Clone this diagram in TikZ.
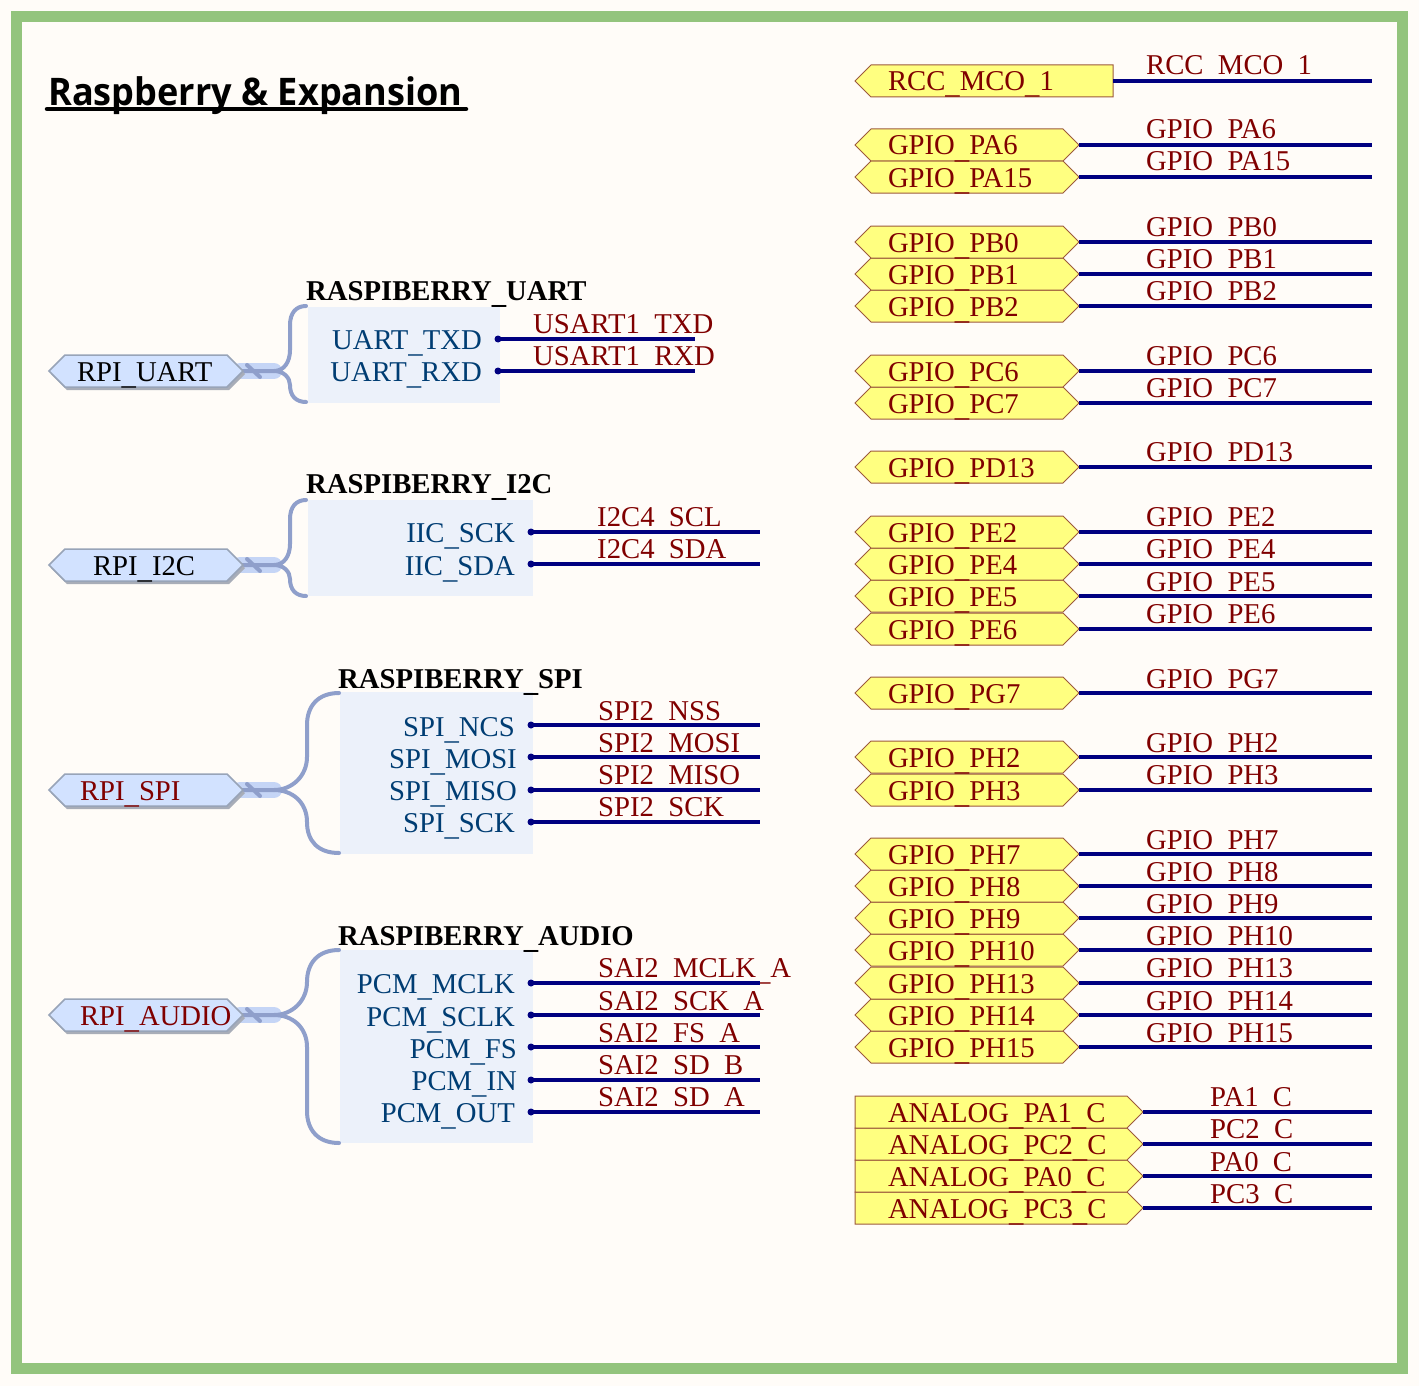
\documentclass[tikz,border=0pt]{standalone}
\usepackage{fontspec}
\usetikzlibrary{shapes.symbols,shadows}
\setmainfont{Liberation Serif}
\newfontfamily\titlefont[FakeStretch=0.95]{Open Sans}
\newcommand{\usc}{\raisebox{-3pt}{\textunderscore}}

\definecolor{wirecol}{HTML}{000080}
\definecolor{sigcol}{HTML}{800000}
\definecolor{pincol}{HTML}{003D73}
\definecolor{portfill}{HTML}{FFFF80}
\definecolor{portline}{HTML}{9C5A3C}
\definecolor{harfill}{HTML}{ECF1FA}
\definecolor{harline}{HTML}{8F9FCB}
\definecolor{bandcol}{HTML}{C5D5F6}
\definecolor{rpifill}{HTML}{D2E2FF}
\definecolor{rpiline}{HTML}{98A4B8}
\definecolor{rpishadow}{HTML}{A8ADB8}
\definecolor{framecol}{HTML}{93C47D}
\definecolor{sheetcol}{HTML}{FFFCF8}

\tikzset{
  basefont/.style={font=\fontsize{28.7}{28.7}\selectfont},
  gport/.style={basefont,shape=signal,signal pointer angle=90,draw=portline,fill=portfill,line width=1pt,
    text=sigcol,outer sep=0pt,inner ysep=0pt,inner xsep=17pt,minimum height=32pt,text height=24pt,text depth=4pt,
    text width=158pt,align=left,signal to=west and east},
  mport/.style={gport,signal to=west,text width=208pt},
  aport/.style={gport,signal to=east,inner xsep=33pt,text width=206pt},
  rpiport/.style={basefont,shape=signal,signal pointer angle=90,draw=rpiline,fill=rpifill,line width=1.5pt,
    text=black,outer sep=0pt,inner ysep=0pt,inner xsep=12pt,minimum height=32pt,text height=24pt,text depth=4pt,
    text width=138pt,align=left,signal to=west and east,
    drop shadow={shadow xshift=2pt,shadow yshift=-3pt,fill=rpishadow,opacity=1}},
  wlabel/.style={basefont,anchor=base west,text=sigcol,inner sep=0pt},
  hpin/.style={basefont,anchor=base east,text=pincol,inner sep=0pt},
  htitle/.style={anchor=base west,font=\fontsize{28.7}{28.7}\selectfont\bfseries,inner sep=0pt},
  hdot/.style={circle,fill=wirecol,inner sep=0pt,minimum size=7pt},
  wire/.style={draw=wirecol,line width=4.3pt},
  band/.style={draw=bandcol,line width=16pt,line cap=round},
  hline/.style={draw=harline,line width=4pt,line cap=round},
}

\begin{document}
\begin{tikzpicture}[x=1pt,y=-1pt]
  \useasboundingbox (0,0) rectangle (1419,1386);
  \fill[sheetcol] (0,0) rectangle (1419,1386);
  \draw[draw=framecol,line width=11pt] (16.5,16.5) rectangle (1402.5,1368.5);

  %title
  \draw (48,105.5) node[anchor=base west,inner sep=0pt,font=\titlefont\fontsize{38}{38}\selectfont\bfseries] (title) {Raspberry \& Expansion};
  \draw (47,109) coordinate (ulA);
  \draw (466,109) coordinate (ulB);
  \draw[line width=4.5pt,line cap=round] (ulA)--(ulB);

  %harness backgrounds
  \fill[harfill] (308,307) rectangle (500,403);
  \fill[harfill] (308,500) rectangle (533,596);
  \fill[harfill] (340,692) rectangle (533,854);
  \fill[harfill] (340,950) rectangle (533,1143);

  %harness ends
  \draw (274,371) coordinate (hUART);
  \draw (274,565) coordinate (hI2C);
  \draw (274,790) coordinate (hSPI);
  \draw (274,1015) coordinate (hAUDIO);

  \draw[band] (240,371)--(hUART);
  \draw[band] (240,565)--(hI2C);
  \draw[band] (240,790)--(hSPI);
  \draw[band] (240,1015)--(hAUDIO);

  \draw[hline] (240,371)--(hUART) (247,365)--(260,377);
  \draw[hline] (240,565)--(hI2C) (247,559)--(260,571);
  \draw[hline] (240,790)--(hSPI) (247,784)--(260,796);
  \draw[hline] (240,1015)--(hAUDIO) (247,1009)--(260,1021);

  \draw[hline] (306,306) .. controls (296,306) and (290,313) .. (290,325) -- (290,350) .. controls (290,362) and (284,371) .. (hUART) .. controls (284,371) and (290,378) .. (290,385) .. controls (290,396) and (296,402) .. (306,402);
  \draw[hline] (306,500) .. controls (296,500) and (290,507) .. (290,519) -- (290,544) .. controls (290,556) and (284,565) .. (hI2C) .. controls (284,565) and (290,572) .. (290,579) .. controls (290,590) and (296,596) .. (306,596);
  \draw[hline] (339,693) .. controls (318,693) and (307,706) .. (307,725) -- (307,757) .. controls (307,776) and (292,790) .. (hSPI) .. controls (292,790) and (307,802) .. (307,822) .. controls (307,841) and (318,853) .. (339,853);
  \draw[hline] (339,950) .. controls (318,950) and (307,963) .. (307,982) .. controls (307,1001) and (292,1015) .. (hAUDIO) .. controls (292,1015) and (307,1027) .. (307,1047) -- (307,1111) .. controls (307,1130) and (318,1143) .. (339,1143);

  %raspberry ports
  \draw (49,371) node[rpiport,anchor=west,inner xsep=12pt] (pUART) {RPI\usc UART};
  \draw (49,565) node[rpiport,anchor=west,inner xsep=28pt,text width=106pt] (pI2C) {RPI\usc I2C};
  \draw (49,790) node[rpiport,anchor=west,inner xsep=15pt,text width=132pt,text=sigcol] (pSPI) {RPI\usc SPI};
  \draw (49,1015) node[rpiport,anchor=west,inner xsep=15pt,text width=132pt,text=sigcol] (pAUDIO) {\rlap{RPI\usc AUDIO}};

  %uart
  \draw (306,300) node[htitle] (tUART) {RASPIBERRY\usc UART};
  \draw (482,349) node[hpin] (nTXD) {UART\usc TXD};
  \draw (482,381) node[hpin] (nRXD) {UART\usc RXD};
  \draw (533,333) node[wlabel] (lTXD) {USART1\usc TXD};
  \draw (533,365) node[wlabel] (lRXD) {USART1\usc RXD};
  \draw (498,339) node[hdot] (dTXD) {};
  \draw (498,371) node[hdot] (dRXD) {};
  \draw (695,339) coordinate (eTXD);
  \draw (695,371) coordinate (eRXD);
  \draw[wire] (dTXD.center)--(eTXD);
  \draw[wire] (dRXD.center)--(eRXD);

  %i2c
  \draw (306,493) node[htitle] (tI2C) {RASPIBERRY\usc I2C};
  \draw (515,542) node[hpin] (nSCL) {IIC\usc SCK};
  \draw (515,575) node[hpin] (nSDA) {IIC\usc SDA};
  \draw (597,526) node[wlabel] (lSCL) {I2C4\usc SCL};
  \draw (597,558) node[wlabel] (lSDA) {I2C4\usc SDA};
  \draw (531,532) node[hdot] (dSCL) {};
  \draw (531,564) node[hdot] (dSDA) {};
  \draw (760,532) coordinate (eSCL);
  \draw (760,564) coordinate (eSDA);
  \draw[wire] (dSCL.center)--(eSCL);
  \draw[wire] (dSDA.center)--(eSDA);

  %spi
  \draw (338,688) node[htitle] (tSPI) {RASPIBERRY\usc SPI};
  \draw (515,736) node[hpin] (nNCS) {SPI\usc NCS};
  \draw (517,768) node[hpin] (nMOSI) {SPI\usc MOSI};
  \draw (517,800) node[hpin] (nMISO) {SPI\usc MISO};
  \draw (515,832) node[hpin] (nSCK) {SPI\usc SCK};
  \draw (598,720) node[wlabel] (lNSS) {SPI2\usc NSS};
  \draw (598,752) node[wlabel] (lMOSI) {SPI2\usc MOSI};
  \draw (598,784) node[wlabel] (lMISO) {SPI2\usc MISO};
  \draw (598,816) node[wlabel] (lSCK) {SPI2\usc SCK};
  \draw (531,725) node[hdot] (dNSS) {};
  \draw (531,757) node[hdot] (dMOSI) {};
  \draw (531,790) node[hdot] (dMISO) {};
  \draw (531,822) node[hdot] (dSCK) {};
  \draw (760,725) coordinate (eNSS);
  \draw (760,757) coordinate (eMOSI);
  \draw (760,790) coordinate (eMISO);
  \draw (760,822) coordinate (eSCK);
  \draw[wire] (dNSS.center)--(eNSS);
  \draw[wire] (dMOSI.center)--(eMOSI);
  \draw[wire] (dMISO.center)--(eMISO);
  \draw[wire] (dSCK.center)--(eSCK);

  %audio
  \draw (338,945) node[htitle] (tAUDIO) {RASPIBERRY\usc AUDIO};
  \draw (515,993) node[hpin] (nMCLK) {PCM\usc MCLK};
  \draw (515,1026) node[hpin] (nSCLK) {PCM\usc SCLK};
  \draw (517,1058) node[hpin] (nFS) {PCM\usc FS};
  \draw (517,1090) node[hpin] (nIN) {PCM\usc IN};
  \draw (515,1122) node[hpin] (nOUT) {PCM\usc OUT};
  \draw (598,977) node[wlabel] (lMCLK) {SAI2\usc MCLK\usc A};
  \draw (598,1010) node[wlabel] (lSCLK) {SAI2\usc SCK\usc A};
  \draw (598,1042) node[wlabel] (lFS) {SAI2\usc FS\usc A};
  \draw (598,1074) node[wlabel] (lIN) {SAI2\usc SD\usc B};
  \draw (598,1106) node[wlabel] (lOUT) {SAI2\usc SD\usc A};
  \draw (531,983) node[hdot] (dMCLK) {};
  \draw (531,1015) node[hdot] (dSCLK) {};
  \draw (531,1047) node[hdot] (dFS) {};
  \draw (531,1080) node[hdot] (dIN) {};
  \draw (531,1112) node[hdot] (dOUT) {};
  \draw (760,983) coordinate (eMCLK);
  \draw (760,1015) coordinate (eSCLK);
  \draw (760,1047) coordinate (eFS);
  \draw (760,1080) coordinate (eIN);
  \draw (760,1112) coordinate (eOUT);
  \draw[wire] (dMCLK.center)--(eMCLK);
  \draw[wire] (dSCLK.center)--(eSCLK);
  \draw[wire] (dFS.center)--(eFS);
  \draw[wire] (dIN.center)--(eIN);
  \draw[wire] (dOUT.center)--(eOUT);

  %right column, ports (bottom up)
  \draw (855,1208) node[aport,anchor=west] (pPC3) {\rlap{ANALOG\usc PC3\usc C}};
  \draw (855,1176) node[aport,anchor=west] (pPA0) {\rlap{ANALOG\usc PA0\usc C}};
  \draw (855,1144) node[aport,anchor=west] (pPC2) {\rlap{ANALOG\usc PC2\usc C}};
  \draw (855,1112) node[aport,anchor=west] (pPA1) {\rlap{ANALOG\usc PA1\usc C}};
  \draw (855,1047) node[gport,anchor=west] (pPH15) {GPIO\usc PH15};
  \draw (855,1015) node[gport,anchor=west] (pPH14) {GPIO\usc PH14};
  \draw (855,983) node[gport,anchor=west] (pPH13) {GPIO\usc PH13};
  \draw (855,950) node[gport,anchor=west] (pPH10) {GPIO\usc PH10};
  \draw (855,918) node[gport,anchor=west] (pPH9) {GPIO\usc PH9};
  \draw (855,886) node[gport,anchor=west] (pPH8) {GPIO\usc PH8};
  \draw (855,854) node[gport,anchor=west] (pPH7) {GPIO\usc PH7};
  \draw (855,790) node[gport,anchor=west] (pPH3) {GPIO\usc PH3};
  \draw (855,757) node[gport,anchor=west] (pPH2) {GPIO\usc PH2};
  \draw (855,693) node[gport,anchor=west] (pPG7) {GPIO\usc PG7};
  \draw (855,629) node[gport,anchor=west] (pPE6) {GPIO\usc PE6};
  \draw (855,596) node[gport,anchor=west] (pPE5) {GPIO\usc PE5};
  \draw (855,564) node[gport,anchor=west] (pPE4) {GPIO\usc PE4};
  \draw (855,532) node[gport,anchor=west] (pPE2) {GPIO\usc PE2};
  \draw (855,467) node[gport,anchor=west] (pPD13) {GPIO\usc PD13};
  \draw (855,403) node[gport,anchor=west] (pPC7) {GPIO\usc PC7};
  \draw (855,371) node[gport,anchor=west] (pPC6) {GPIO\usc PC6};
  \draw (855,306) node[gport,anchor=west] (pPB2) {GPIO\usc PB2};
  \draw (855,274) node[gport,anchor=west] (pPB1) {GPIO\usc PB1};
  \draw (855,242) node[gport,anchor=west] (pPB0) {GPIO\usc PB0};
  \draw (855,177) node[gport,anchor=west] (pPA15) {GPIO\usc PA15};
  \draw (855,145) node[gport,anchor=west] (pPA6) {GPIO\usc PA6};
  \draw (855,81) node[mport,anchor=west] (pMCO) {RCC\usc MCO\usc 1};

  %right column, net labels
  \draw (1146,75) node[wlabel] (lMCO) {RCC\usc MCO\usc 1};
  \draw (1146,139) node[wlabel] (lPA6) {GPIO\usc PA6};
  \draw (1146,171) node[wlabel] (lPA15) {GPIO\usc PA15};
  \draw (1146,236) node[wlabel] (lPB0) {GPIO\usc PB0};
  \draw (1146,268) node[wlabel] (lPB1) {GPIO\usc PB1};
  \draw (1146,300) node[wlabel] (lPB2) {GPIO\usc PB2};
  \draw (1146,365) node[wlabel] (lPC6) {GPIO\usc PC6};
  \draw (1146,397) node[wlabel] (lPC7) {GPIO\usc PC7};
  \draw (1146,461) node[wlabel] (lPD13) {GPIO\usc PD13};
  \draw (1146,526) node[wlabel] (lPE2) {GPIO\usc PE2};
  \draw (1146,558) node[wlabel] (lPE4) {GPIO\usc PE4};
  \draw (1146,591) node[wlabel] (lPE5) {GPIO\usc PE5};
  \draw (1146,623) node[wlabel] (lPE6) {GPIO\usc PE6};
  \draw (1146,688) node[wlabel] (lPG7) {GPIO\usc PG7};
  \draw (1146,752) node[wlabel] (lPH2) {GPIO\usc PH2};
  \draw (1146,784) node[wlabel] (lPH3) {GPIO\usc PH3};
  \draw (1146,849) node[wlabel] (lPH7) {GPIO\usc PH7};
  \draw (1146,881) node[wlabel] (lPH8) {GPIO\usc PH8};
  \draw (1146,913) node[wlabel] (lPH9) {GPIO\usc PH9};
  \draw (1146,945) node[wlabel] (lPH10) {GPIO\usc PH10};
  \draw (1146,977) node[wlabel] (lPH13) {GPIO\usc PH13};
  \draw (1146,1010) node[wlabel] (lPH14) {GPIO\usc PH14};
  \draw (1146,1042) node[wlabel] (lPH15) {GPIO\usc PH15};
  \draw (1210,1106) node[wlabel] (lPA1) {PA1\usc C};
  \draw (1210,1138) node[wlabel] (lPC2) {PC2\usc C};
  \draw (1210,1171) node[wlabel] (lPA0) {PA0\usc C};
  \draw (1210,1203) node[wlabel] (lPC3) {PC3\usc C};

  %right column, wire ends
  \draw (1372,81) coordinate (eMCO);
  \draw (1372,145) coordinate (ePA6);
  \draw (1372,177) coordinate (ePA15);
  \draw (1372,242) coordinate (ePB0);
  \draw (1372,274) coordinate (ePB1);
  \draw (1372,306) coordinate (ePB2);
  \draw (1372,371) coordinate (ePC6);
  \draw (1372,403) coordinate (ePC7);
  \draw (1372,467) coordinate (ePD13);
  \draw (1372,532) coordinate (ePE2);
  \draw (1372,564) coordinate (ePE4);
  \draw (1372,596) coordinate (ePE5);
  \draw (1372,629) coordinate (ePE6);
  \draw (1372,693) coordinate (ePG7);
  \draw (1372,757) coordinate (ePH2);
  \draw (1372,790) coordinate (ePH3);
  \draw (1372,854) coordinate (ePH7);
  \draw (1372,886) coordinate (ePH8);
  \draw (1372,918) coordinate (ePH9);
  \draw (1372,950) coordinate (ePH10);
  \draw (1372,983) coordinate (ePH13);
  \draw (1372,1015) coordinate (ePH14);
  \draw (1372,1047) coordinate (ePH15);
  \draw (1372,1112) coordinate (ePA1);
  \draw (1372,1144) coordinate (ePC2);
  \draw (1372,1176) coordinate (ePA0);
  \draw (1372,1208) coordinate (ePC3);

  %right column, wires
  \draw[wire] (pMCO.east)--(eMCO);
  \draw[wire] (pPA6.east)--(ePA6);
  \draw[wire] (pPA15.east)--(ePA15);
  \draw[wire] (pPB0.east)--(ePB0);
  \draw[wire] (pPB1.east)--(ePB1);
  \draw[wire] (pPB2.east)--(ePB2);
  \draw[wire] (pPC6.east)--(ePC6);
  \draw[wire] (pPC7.east)--(ePC7);
  \draw[wire] (pPD13.east)--(ePD13);
  \draw[wire] (pPE2.east)--(ePE2);
  \draw[wire] (pPE4.east)--(ePE4);
  \draw[wire] (pPE5.east)--(ePE5);
  \draw[wire] (pPE6.east)--(ePE6);
  \draw[wire] (pPG7.east)--(ePG7);
  \draw[wire] (pPH2.east)--(ePH2);
  \draw[wire] (pPH3.east)--(ePH3);
  \draw[wire] (pPH7.east)--(ePH7);
  \draw[wire] (pPH8.east)--(ePH8);
  \draw[wire] (pPH9.east)--(ePH9);
  \draw[wire] (pPH10.east)--(ePH10);
  \draw[wire] (pPH13.east)--(ePH13);
  \draw[wire] (pPH14.east)--(ePH14);
  \draw[wire] (pPH15.east)--(ePH15);
  \draw[wire] (pPA1.east)--(ePA1);
  \draw[wire] (pPC2.east)--(ePC2);
  \draw[wire] (pPA0.east)--(ePA0);
  \draw[wire] (pPC3.east)--(ePC3);
\end{tikzpicture}
\end{document}
